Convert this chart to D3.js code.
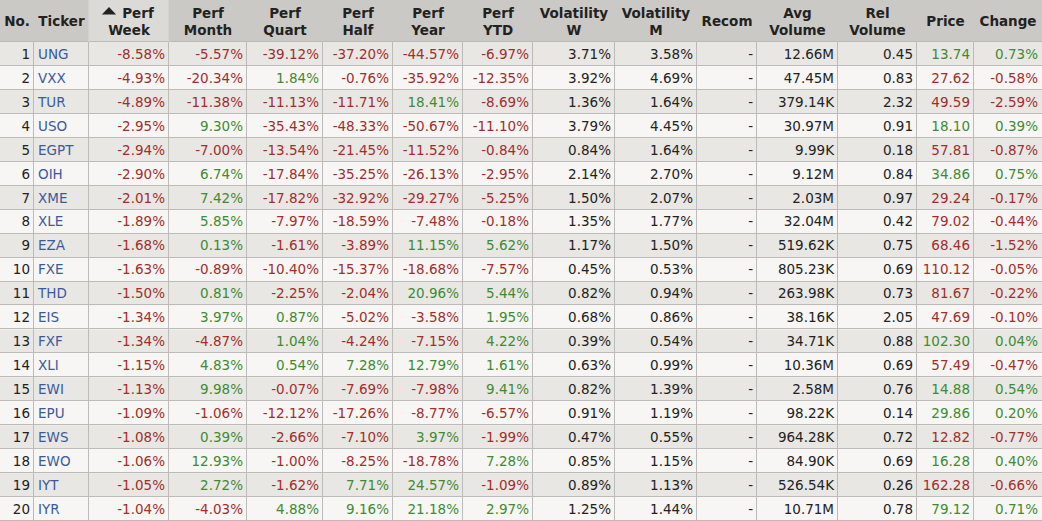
<!DOCTYPE html>
<head>
  <meta charset="utf-8">
  <script src="https://d3js.org/d3.v7.min.js"></script>
  <style>
    body { margin:0; background:#fff; font-family: "DejaVu Sans", Verdana, sans-serif; }
  </style>
</head>
<body>
  <script>
    // table data, one array per column
    var tickers = ["UNG","VXX","TUR","USO","EGPT","OIH","XME","XLE","EZA","FXE",
                   "THD","EIS","FXF","XLI","EWI","EPU","EWS","EWO","IYT","IYR"];
    var perfWeek  = [-8.58,-4.93,-4.89,-2.95,-2.94,-2.90,-2.01,-1.89,-1.68,-1.63,-1.50,-1.34,-1.34,-1.15,-1.13,-1.09,-1.08,-1.06,-1.05,-1.04];
    var perfMonth = [-5.57,-20.34,-11.38,9.30,-7.00,6.74,7.42,5.85,0.13,-0.89,0.81,3.97,-4.87,4.83,9.98,-1.06,0.39,12.93,2.72,-4.03];
    var perfQuart = [-39.12,1.84,-11.13,-35.43,-13.54,-17.84,-17.82,-7.97,-1.61,-10.40,-2.25,0.87,1.04,0.54,-0.07,-12.12,-2.66,-1.00,-1.62,4.88];
    var perfHalf  = [-37.20,-0.76,-11.71,-48.33,-21.45,-35.25,-32.92,-18.59,-3.89,-15.37,-2.04,-5.02,-4.24,7.28,-7.69,-17.26,-7.10,-8.25,7.71,9.16];
    var perfYear  = [-44.57,-35.92,18.41,-50.67,-11.52,-26.13,-29.27,-7.48,11.15,-18.68,20.96,-3.58,-7.15,12.79,-7.98,-8.77,3.97,-18.78,24.57,21.18];
    var perfYTD   = [-6.97,-12.35,-8.69,-11.10,-0.84,-2.95,-5.25,-0.18,5.62,-7.57,5.44,1.95,4.22,1.61,9.41,-6.57,-1.99,7.28,-1.09,2.97];
    var volW      = [3.71,3.92,1.36,3.79,0.84,2.14,1.50,1.35,1.17,0.45,0.82,0.68,0.39,0.63,0.82,0.91,0.47,0.85,0.89,1.25];
    var volM      = [3.58,4.69,1.64,4.45,1.64,2.70,2.07,1.77,1.50,0.53,0.94,0.86,0.54,0.99,1.39,1.19,0.55,1.15,1.13,1.44];
    var avgVolume = ["12.66M","47.45M","379.14K","30.97M","9.99K","9.12M","2.03M","32.04M","519.62K","805.23K",
                     "263.98K","38.16K","34.71K","10.36M","2.58M","98.22K","964.28K","84.90K","526.54K","10.71M"];
    var relVolume = [0.45,0.83,2.32,0.91,0.18,0.84,0.97,0.42,0.75,0.69,0.73,2.05,0.88,0.69,0.76,0.14,0.72,0.69,0.26,0.78];
    var price     = [13.74,27.62,49.59,18.10,57.81,34.86,29.24,79.02,68.46,110.12,81.67,47.69,102.30,57.49,14.88,29.86,12.82,16.28,162.28,79.12];
    var change    = [0.73,-0.58,-2.59,0.39,-0.87,0.75,-0.17,-0.44,-1.52,-0.05,-0.22,-0.10,0.04,-0.47,0.54,0.20,-0.77,0.40,-0.66,0.71];

    var headers = [["No."],["Ticker"],["Perf","Week"],["Perf","Month"],["Perf","Quart"],["Perf","Half"],
                   ["Perf","Year"],["Perf","YTD"],["Volatility","W"],["Volatility","M"],["Recom"],
                   ["Avg","Volume"],["Rel","Volume"],["Price"],["Change"]];

    // layout
    var colWidths = [34, 55, 80, 78, 76, 70, 70, 70, 82, 82, 60, 81, 79, 57, 68];
    var W = 1042, H = 521, headH = 42;
    var red = "#a12e2d", green = "#3f8a33", blue = "#3a5a9c", ink = "#222";

    var edges = [0];
    colWidths.forEach(function(w) { edges.push(edges[edges.length - 1] + w); });
    var x0 = function(i) { return edges[i]; };
    var x1 = function(i) { return edges[i + 1]; };

    var y = d3.scaleBand().domain(d3.range(tickers.length)).range([headH, H]);

    // plain hyphen for negatives, like the original
    var f2 = function(v) { return d3.format(".2f")(v).replace("\u2212", "-"); };
    var pct = function(v) { return f2(v) + "%"; };
    var signColor = function(v) { return v > 0 ? green : v < 0 ? red : ink; };

    var rows = tickers.map(function(t, i) {
      return [
        { text: String(i + 1), color: ink, align: "end" },
        { text: t, color: blue, align: "start" },
        { text: pct(perfWeek[i]), color: signColor(perfWeek[i]), align: "end" },
        { text: pct(perfMonth[i]), color: signColor(perfMonth[i]), align: "end" },
        { text: pct(perfQuart[i]), color: signColor(perfQuart[i]), align: "end" },
        { text: pct(perfHalf[i]), color: signColor(perfHalf[i]), align: "end" },
        { text: pct(perfYear[i]), color: signColor(perfYear[i]), align: "end" },
        { text: pct(perfYTD[i]), color: signColor(perfYTD[i]), align: "end" },
        { text: pct(volW[i]), color: ink, align: "end" },
        { text: pct(volM[i]), color: ink, align: "end" },
        { text: "-", color: ink, align: "end" },
        { text: avgVolume[i], color: ink, align: "end" },
        { text: f2(relVolume[i]), color: ink, align: "end" },
        { text: f2(price[i]), color: signColor(change[i]), align: "end" },
        { text: pct(change[i]), color: signColor(change[i]), align: "end" }
      ];
    });

    var svg = d3.select("body").append("svg")
      .attr("width", W)
      .attr("height", H);

    // header
    svg.append("rect").attr("width", W).attr("height", headH).style("fill", "#cbc9c5");
    svg.append("rect")
      .attr("x", x0(2)).attr("width", colWidths[2]).attr("height", headH)
      .style("fill", "#dcdad6");

    var head = svg.selectAll(".head")
      .data(headers)
      .enter()
      .append("text")
      .attr("class", "head")
      .attr("text-anchor", "middle")
      .attr("transform", function(d, i) { return "translate(" + ((x0(i) + x1(i)) / 2) + ",0)"; })
      .style("font-size", "13.5px")
      .style("font-weight", "bold")
      .style("fill", ink);

    head.selectAll("tspan")
      .data(function(d, i) { return d.map(function(s, j) { return { s: s, j: j, n: d.length, col: i }; }); })
      .enter()
      .append("tspan")
      .attr("x", function(d) { return d.col == 2 && d.j == 0 ? 9 : 0; })
      .attr("y", function(d) { return d.n == 1 ? 26 : (d.j == 0 ? 18 : 35); })
      .text(function(d) { return d.s; });

    // sort arrow
    svg.append("path")
      .attr("d", d3.symbol().type(d3.symbolTriangle).size(45)())
      .attr("transform", "translate(" + (x0(2) + 20) + ",12) scale(1.4,0.85)")
      .style("fill", ink);

    // body rows
    var row = svg.selectAll(".row")
      .data(rows)
      .enter()
      .append("g")
      .attr("class", "row")
      .attr("transform", function(d, i) { return "translate(0," + y(i) + ")"; });

    row.append("rect")
      .attr("width", W)
      .attr("height", y.bandwidth())
      .style("fill", function(d, i) { return i % 2 == 0 ? "#e8e7e4" : "#f7f6f4"; });

    row.selectAll("text")
      .data(function(d) { return d; })
      .enter()
      .append("text")
      .attr("x", function(d, j) { return d.align == "start" ? x0(j) + 4 : x1(j) - 4; })
      .attr("y", y.bandwidth() / 2)
      .attr("dy", "0.36em")
      .attr("text-anchor", function(d) { return d.align; })
      .style("font-size", "13.5px")
      .style("fill", function(d) { return d.color; })
      .text(function(d) { return d.text; });

    // grid lines
    var grid = svg.append("g").style("stroke", "#bdbbb7").style("stroke-width", 1);
    grid.selectAll(".hl")
      .data(d3.range(tickers.length + 1))
      .enter()
      .append("line")
      .attr("x1", 0).attr("x2", W)
      .attr("y1", function(i) { return Math.round(i == tickers.length ? H : y(i)) - 0.5; })
      .attr("y2", function(i) { return Math.round(i == tickers.length ? H : y(i)) - 0.5; });
    grid.selectAll(".vl")
      .data(edges.slice(1, -1))
      .enter()
      .append("line")
      .attr("x1", function(e) { return e - 0.5; })
      .attr("x2", function(e) { return e - 0.5; })
      .attr("y1", headH).attr("y2", H);
    grid.selectAll(".hv")
      .data([x0(2), x1(2)])
      .enter()
      .append("line")
      .attr("x1", function(e) { return e - 0.5; })
      .attr("x2", function(e) { return e - 0.5; })
      .attr("y1", 0).attr("y2", headH)
      .style("stroke", "#d4d2ce");
  </script>
</body>
